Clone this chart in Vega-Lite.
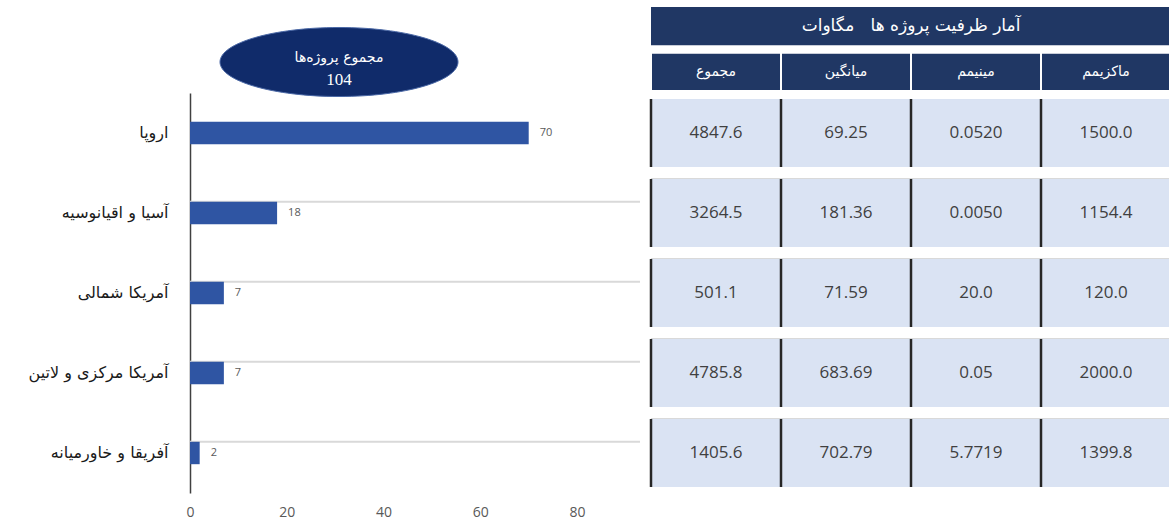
{
  "$schema": "https://vega.github.io/schema/vega-lite/v6.json",
  "background": "white",
  "padding": {"left": 5, "top": 7, "right": 0, "bottom": 0},
  "config": {"view": {"stroke": null}},
  "datasets": {
    "regions": [
      {"region": "اروپا", "count": 70, "sum": "4847.6", "mean": "69.25", "min": "0.0520", "max": "1500.0"},
      {"region": "آسیا و اقیانوسیه", "count": 18, "sum": "3264.5", "mean": "181.36", "min": "0.0050", "max": "1154.4"},
      {"region": "آمریکا شمالی", "count": 7, "sum": "501.1", "mean": "71.59", "min": "20.0", "max": "120.0"},
      {"region": "آمریکا مرکزی و لاتین", "count": 7, "sum": "4785.8", "mean": "683.69", "min": "0.05", "max": "2000.0"},
      {"region": "آفریقا و خاورمیانه", "count": 2, "sum": "1405.6", "mean": "702.79", "min": "5.7719", "max": "1399.8"}
    ],
    "summary": [{"label": "مجموع پروژه‌ها", "total": 104}],
    "columns": [
      {"col": "sum", "name": "مجموع"},
      {"col": "mean", "name": "میانگین"},
      {"col": "min", "name": "مینیمم"},
      {"col": "max", "name": "ماکزیمم"}
    ],
    "tableTitle": [{"title": "آمار ظرفیت پروژه ها\u00a0\u00a0\u00a0مگاوات"}]
  },
  "spacing": 8,
  "hconcat": [
    {
      "spacing": 0,
      "bounds": "flush",
      "vconcat": [
        {
          "width": 298,
          "height": 86,
          "view": {"fill": "white", "stroke": null},
          "data": {"name": "summary"},
          "layer": [
            {
              "mark": {"type": "point", "shape": "M-1,0A1,0.29,0,1,0,1,0A1,0.29,0,1,0,-1,0Z", "size": 56644, "filled": true, "color": "#102b6a", "opacity": 1, "stroke": "#4a68a6", "strokeWidth": 1, "yOffset": 12},
              "encoding": {}
            },
            {
              "mark": {"type": "text", "font": "DejaVu Sans", "fontSize": 14, "color": "white", "dy": 8},
              "encoding": {"text": {"field": "label"}}
            },
            {
              "mark": {"type": "text", "font": "Liberation Serif", "fontSize": 17, "color": "white", "dy": 30},
              "encoding": {"text": {"field": "total"}}
            }
          ]
        },
        {
          "width": 450,
          "height": 400,
          "data": {"name": "regions"},
          "layer": [
            {
              "transform": [{"filter": "datum.region !== 'اروپا'"}],
              "mark": {"type": "rule", "color": "#d9d9d9", "strokeWidth": 2},
              "encoding": {
                "y": {"field": "region", "type": "nominal", "bandPosition": 0, "title": null,
                  "scale": {"domain": ["اروپا", "آسیا و اقیانوسیه", "آمریکا شمالی", "آمریکا مرکزی و لاتین", "آفریقا و خاورمیانه"], "paddingInner": 0.72, "paddingOuter": 0.36}}
              }
            },
            {
              "mark": {"type": "bar", "color": "#2f55a3"},
              "encoding": {
                "y": {"field": "region", "type": "nominal", "title": null,
                  "scale": {"domain": ["اروپا", "آسیا و اقیانوسیه", "آمریکا شمالی", "آمریکا مرکزی و لاتین", "آفریقا و خاورمیانه"], "paddingInner": 0.72, "paddingOuter": 0.36},
                  "axis": {"title": null, "domain": true, "domainColor": "#404040", "domainWidth": 1.5, "ticks": false, "grid": false, "labelFont": "DejaVu Sans", "labelFontSize": 16, "labelColor": "#1a1a1a", "labelPadding": 22, "minExtent": 185, "maxExtent": 185}},
                "x": {"field": "count", "type": "quantitative", "title": null,
                  "scale": {"domain": [0, 93], "nice": false},
                  "axis": {"title": null, "values": [0, 20, 40, 60, 80], "domain": false, "ticks": false, "grid": false, "labelFlush": false, "labelFont": "Open Sans", "labelFontSize": 14, "labelColor": "#595959", "labelPadding": 12}}
              }
            },
            {
              "mark": {"type": "text", "align": "left", "dx": 11, "font": "Open Sans", "fontSize": 11, "color": "#595959"},
              "encoding": {
                "y": {"field": "region", "type": "nominal", "title": null},
                "x": {"field": "count", "type": "quantitative", "title": null},
                "text": {"field": "count"}
              }
            }
          ]
        }
      ]
    },
    {
      "spacing": 2,
      "bounds": "flush",
      "vconcat": [
        {
          "width": 520,
          "height": 84,
          "layer": [
            {
              "data": {"name": "tableTitle"},
              "mark": {"type": "rect", "color": "#203764"},
              "encoding": {
                "y": {"datum": "title", "type": "nominal", "scale": {"domain": ["title", "header"], "paddingInner": 0.16, "paddingOuter": 0}, "axis": null}
              }
            },
            {
              "data": {"name": "tableTitle"},
              "mark": {"type": "text", "font": "DejaVu Sans", "fontSize": 17, "color": "white"},
              "encoding": {
                "y": {"datum": "title", "type": "nominal", "axis": null},
                "text": {"field": "title"}
              }
            },
            {
              "data": {"name": "columns"},
              "mark": {"type": "rect", "color": "#203764", "stroke": "white", "strokeWidth": 2},
              "encoding": {
                "x": {"field": "col", "type": "nominal", "scale": {"domain": ["sum", "mean", "min", "max"], "paddingInner": 0, "paddingOuter": 0}, "axis": null},
                "y": {"datum": "header", "type": "nominal", "axis": null}
              }
            },
            {
              "data": {"name": "columns"},
              "mark": {"type": "text", "font": "DejaVu Sans", "fontSize": 14, "color": "white"},
              "encoding": {
                "x": {"field": "col", "type": "nominal", "axis": null},
                "y": {"datum": "header", "type": "nominal", "axis": null},
                "text": {"field": "name"}
              }
            }
          ]
        },
        {
          "width": 520,
          "height": 400,
          "data": {"name": "regions"},
          "layer": [
            {
              "transform": [{"filter": "datum.region !== 'اروپا'"}],
              "mark": {"type": "rule", "color": "#d9d9d9", "strokeWidth": 2},
              "encoding": {
                "y": {"field": "region", "type": "nominal", "bandPosition": 0, "axis": null,
                  "scale": {"domain": ["اروپا", "آسیا و اقیانوسیه", "آمریکا شمالی", "آمریکا مرکزی و لاتین", "آفریقا و خاورمیانه"], "paddingInner": 0.15, "paddingOuter": 0.075}}
              }
            },
            {
              "transform": [{"fold": ["sum", "mean", "min", "max"], "as": ["col", "val"]}],
              "encoding": {
                "x": {"field": "col", "type": "nominal", "axis": null, "scale": {"domain": ["sum", "mean", "min", "max"], "paddingInner": 0, "paddingOuter": 0}},
                "y": {"field": "region", "type": "nominal", "axis": null}
              },
              "layer": [
                {"mark": {"type": "rect", "color": "#dae3f3"}},
                {
                  "mark": {"type": "tick", "orient": "vertical", "color": "#262626", "thickness": 2.5, "size": 68, "opacity": 1},
                  "encoding": {"x": {"field": "col", "type": "nominal", "bandPosition": 0, "axis": null}}
                },
                {
                  "transform": [{"filter": "datum.col === 'max'"}],
                  "mark": {"type": "tick", "orient": "vertical", "color": "#262626", "thickness": 2.5, "size": 68, "opacity": 1},
                  "encoding": {"x": {"field": "col", "type": "nominal", "bandPosition": 1, "axis": null}}
                },
                {
                  "mark": {"type": "text", "font": "Open Sans", "fontSize": 17, "color": "#404040"},
                  "encoding": {"text": {"field": "val"}}
                }
              ]
            }
          ]
        }
      ]
    }
  ]
}
